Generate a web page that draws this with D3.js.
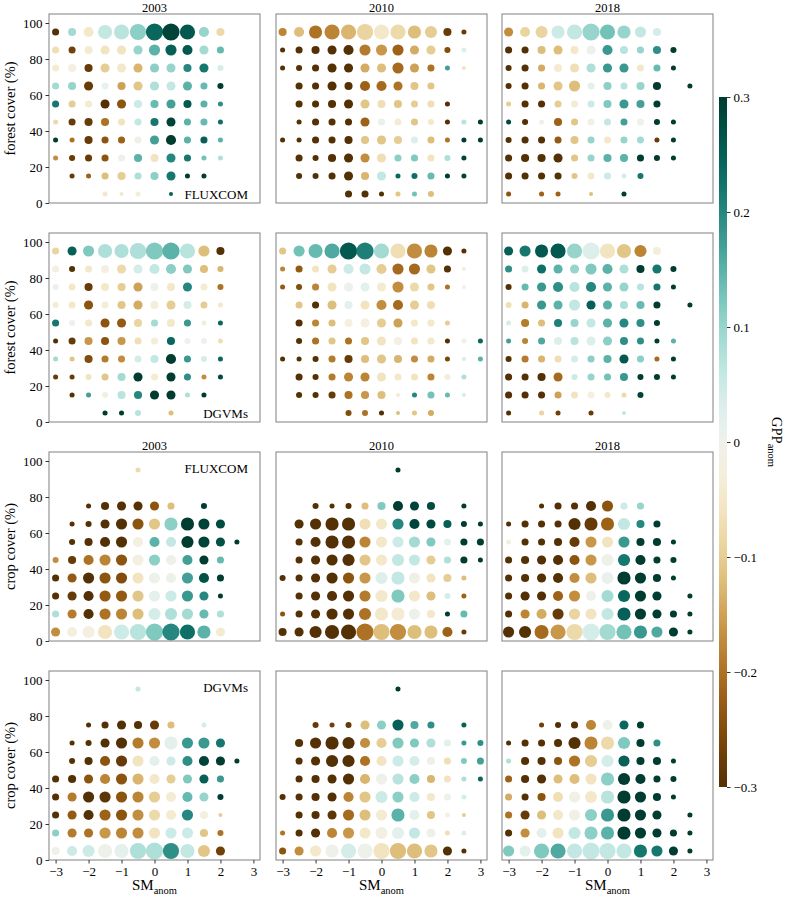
<!DOCTYPE html>
<html><head><meta charset="utf-8">
<script src="https://cdn.jsdelivr.net/npm/d3@7"></script>
<style>body{margin:0;background:#fff} text{font-family:"Liberation Serif","DejaVu Serif",serif;fill:#000}</style>
</head><body><svg id="c" width="786" height="898"></svg>
<script>
const _ = null;
const smBins = [-3,-2.5,-2,-1.5,-1,-0.5,0,0.5,1,1.5,2,2.5,3];
const coverBins = [95,85,75,65,55,45,35,25,15,5];
const years = ["2003","2010","2018"];
const products = ["FLUXCOM","DGVMs","FLUXCOM","DGVMs"];
const coverLabels = ["forest cover (%)","forest cover (%)","crop cover (%)","crop cover (%)"];
const yTicks = [0,20,40,60,80,100];
const xTicks = [-3,-2,-1,0,1,2,3];
const cbarTicks = [-0.3,-0.2,-0.1,0,0.1,0.2,0.3];

// GPP anomaly per cell (rows: cover 95 -> 5, cols: SM -3 -> 3)
const gppFluxForest2003 = [
[-.3,.09,-.05,.06,.07,.11,.24,.29,.26,.1,-.08,_,_],
[-.07,-.27,-.04,-.06,-.06,.1,.15,.25,.26,.09,.14,_,_],
[-.04,-.02,-.28,-.1,-.05,-.13,.11,.1,.2,.22,.04,_,_],
[.09,.1,-.28,.01,-.15,-.11,.08,.06,.15,.14,.3,_,_],
[.22,-.1,-.04,-.3,-.24,.05,.14,.17,.26,.15,.19,_,_],
[-.08,-.28,-.28,-.2,-.06,.06,.22,.29,.15,.14,.23,_,_],
[.3,-.2,-.28,-.24,-.22,0,.17,.3,.15,.25,.15,_,_],
[-.17,-.28,-.28,-.24,0,.15,-.06,.2,.22,.13,.08,_,_],
[_,-.28,-.22,-.12,-.1,.08,.11,.22,.3,.3,_,_,_],
[_,_,_,-.05,-.05,-.03,_,.25,_,_,_,_,_]];
const sizeFluxForest2003 = [
[7,8,10,14,15,16,17,17,15,10,8,_,_],
[7,7,8,9,9,9,11,11,10,9,7,_,_],
[7,8,8,9,9,9,9,9,8,9,6,_,_],
[7,8,9,7,8,9,9,9,9,7,6,_,_],
[7,7,7,9,9,8,8,9,8,7,5,_,_],
[5,7,8,8,7,7,8,9,7,7,5,_,_],
[5,5,8,7,7,7,9,10,7,7,5,_,_],
[5,6,7,7,7,8,8,9,7,5,5,_,_],
[_,5,5,7,8,7,8,9,5,5,_,_,_],
[_,_,_,5,4,5,_,4,_,_,_,_,_]];

const gppFluxForest2010 = [
[-.18,-.12,-.2,-.18,-.13,-.09,-.05,-.08,-.12,-.1,-.28,-.28,_],
[-.3,-.3,-.3,-.3,-.3,-.19,-.16,-.22,-.14,-.1,-.25,.03,_],
[-.3,-.3,-.3,-.3,-.3,-.14,-.12,-.21,-.15,-.2,.17,-.06,_],
[_,-.3,-.3,-.3,-.3,-.22,-.21,-.2,-.11,-.11,_,_,_],
[_,-.3,-.3,-.3,-.3,-.11,-.07,-.11,-.1,-.07,-.3,_,_],
[_,-.3,-.3,-.3,-.3,-.22,.01,-.04,-.11,-.05,-.3,.07,.3],
[-.3,-.3,-.3,-.3,-.3,-.11,-.11,-.1,.03,-.12,-.2,.3,.3],
[_,-.3,-.3,-.3,-.3,-.17,-.07,.11,.12,-.06,.08,.29,_],
[_,-.3,-.3,-.3,-.3,-.13,.06,.24,.23,.14,.3,.29,_],
[_,_,_,_,-.3,-.3,-.3,-.11,.13,-.12,_,_,_]];
const sizeFluxForest2010 = [
[8,10,13,15,15,16,15,15,13,12,8,5,_],
[5,7,8,9,10,11,11,11,9,9,6,5,_],
[5,6,7,9,9,9,9,11,9,7,5,4,_],
[_,7,7,9,8,10,10,9,8,7,_,_,_],
[_,7,7,8,9,9,8,8,7,7,5,_,_],
[_,5,7,7,7,9,7,7,7,6,5,5,5],
[5,5,7,7,8,8,9,8,7,7,5,5,5],
[_,7,6,8,9,9,9,7,7,7,6,5,_],
[_,6,6,7,9,8,9,5,6,7,5,5,_],
[_,_,_,_,7,7,5,5,5,6,_,_,_]];

const gppFluxForest2018 = [
[-.17,-.09,-.09,.05,.06,.1,.13,.1,.06,.04,_,_,_],
[-.3,-.3,-.12,-.12,-.05,0,.18,.07,.1,.19,.3,_,_],
[-.3,-.3,-.14,-.04,-.07,.08,.18,.18,-.05,.14,.3,_,_],
[-.3,-.3,-.13,-.11,-.12,.02,.11,.07,.1,.3,_,.3,_],
[-.1,-.3,-.3,-.1,-.04,.05,.12,.18,.17,.3,_,_,_],
[.28,-.3,-.01,-.22,-.11,-.01,.06,.17,0,.3,.3,_,_],
[-.3,-.3,-.3,-.23,-.11,.1,-.05,.1,.09,-.28,.3,_,_],
[-.3,-.3,-.3,-.3,-.11,.1,.15,.15,.3,.3,.3,_,_],
[-.3,-.3,-.3,-.3,-.11,-.05,.05,.04,.22,_,_,_,_],
[-.24,_,-.22,-.22,_,-.12,_,.3,_,_,_,_,_]];
const sizeFluxForest2018 = [
[9,10,12,13,15,17,15,13,11,8,_,_,_],
[7,7,8,9,8,9,10,8,7,8,6,_,_],
[6,7,7,8,9,9,9,9,7,7,5,_,_],
[6,7,7,9,11,7,8,7,8,8,_,5,_],
[5,7,7,7,7,7,8,9,8,7,_,_,_],
[5,6,5,8,7,7,7,7,7,6,5,_,_],
[6,7,7,7,8,7,7,7,7,5,5,_,_],
[7,8,8,9,7,7,8,8,7,6,5,_,_],
[7,7,7,7,6,7,7,5,6,_,_,_,_],
[5,_,5,5,_,4,_,5,_,_,_,_,_]];

const gppDgvmForest2003 = [
[-.09,.25,.12,.08,.08,.08,.12,.15,.07,-.12,-.3,_,_],
[-.02,-.3,-.05,-.02,-.08,.04,.06,.11,.12,-.12,-.13,_,_],
[.01,-.05,-.28,-.05,-.1,-.15,0,-.05,.2,-.04,-.2,_,_],
[-.04,-.05,-.24,-.03,-.11,-.14,-.03,-.1,.04,-.1,-.05,_,_],
[.22,0,-.05,-.24,-.23,-.09,.09,-.05,.18,-.03,.24,_,_],
[-.3,-.28,-.16,-.24,-.16,-.07,-.03,.24,0,0,-.07,_,_],
[.09,-.11,-.25,-.19,-.17,.04,.06,.3,.18,.04,.24,_,_],
[-.28,-.28,-.06,-.11,.09,.3,-.04,.3,.19,-.17,.28,_,_],
[_,-.3,.17,-.02,.07,.2,.3,.3,.08,.3,_,_,_],
[_,_,_,.3,.3,.07,_,-.12,_,_,_,_,_]];
const sizeDgvmForest2003 = [
[7,9,11,14,14,16,17,17,15,11,8,_,_],
[7,6,7,8,9,9,10,10,9,8,6,_,_],
[6,7,8,8,8,9,8,8,9,7,6,_,_],
[6,7,9,7,8,9,8,9,8,7,5,_,_],
[7,6,7,9,9,8,7,8,7,5,5,_,_],
[5,7,8,8,8,7,7,8,6,6,5,_,_],
[5,5,8,7,7,7,8,10,7,6,5,_,_],
[5,5,6,7,8,9,7,9,7,5,5,_,_],
[_,5,5,6,8,8,9,9,5,5,_,_,_],
[_,_,_,5,5,6,_,5,_,_,_,_,_]];

const gppDgvmForest2010 = [
[-.11,.13,.14,.16,.26,.21,.09,-.07,-.17,-.18,-.3,-.3,_],
[-.18,-.23,-.06,-.1,.05,.06,-.1,-.21,-.21,-.11,-.3,-.03,_],
[-.23,-.25,-.18,-.06,0,.02,-.04,-.17,-.08,-.11,-.2,0,_],
[_,-.11,-.3,-.12,.02,-.06,-.17,-.21,-.1,-.07,_,_,_],
[_,-.3,-.18,-.12,-.02,-.02,-.1,-.15,-.05,-.05,-.1,_,_],
[_,-.3,-.2,-.11,-.2,-.11,-.06,-.02,-.06,-.05,-.3,0,.24],
[-.3,-.3,-.3,-.19,-.28,-.12,-.11,-.13,-.17,-.14,-.26,.04,.15],
[_,-.3,-.3,-.19,-.18,-.18,-.06,-.05,-.06,-.18,-.03,.08,_],
[_,-.3,-.3,-.28,-.2,-.16,-.12,-.04,.2,.13,.14,.04,_],
[_,_,_,_,-.25,-.2,-.3,-.12,-.11,-.14,_,_,_]];
const sizeDgvmForest2010 = [
[7,11,14,15,17,17,15,15,15,13,9,5,_],
[5,7,7,9,10,11,10,11,11,9,7,4,_],
[5,6,7,9,9,9,9,11,9,7,5,4,_],
[_,7,7,9,8,9,10,10,9,8,_,_,_],
[_,7,7,7,8,9,9,9,7,7,5,_,_],
[_,6,7,7,7,8,9,8,7,7,5,5,5],
[5,5,6,7,8,8,9,8,7,7,5,4,5],
[_,7,6,7,9,9,9,7,7,7,6,5,_],
[_,6,6,7,8,8,8,4,5,7,5,4,_],
[_,_,_,_,6,6,5,4,5,6,_,_,_]];

const gppDgvmForest2018 = [
[.25,.22,.26,.26,.1,.03,-.06,-.11,-.18,-.03,_,_,_],
[.19,.03,.23,.15,.1,.12,.15,.08,.3,.22,.3,_,_],
[-.3,.14,.18,.19,.07,.2,.15,.1,.07,.22,.3,_,_],
[-.07,-.13,.18,.15,.06,.25,.15,.08,.14,.3,_,.3,_],
[.04,-.19,-.12,.21,.1,.06,.15,.2,.19,.3,_,_,_],
[.17,-.18,.16,.03,.07,.03,.11,.19,.19,.3,.15,_,_],
[-.3,-.19,-.13,-.07,.04,.11,.15,.26,.11,-.21,.3,_,_],
[-.3,-.3,-.3,-.21,.05,.1,.13,.18,.3,.3,.3,_,_],
[-.3,-.3,-.3,-.15,-.06,-.02,-.05,-.08,.29,_,_,_,_],
[-.3,_,-.09,-.27,_,-.28,_,.06,_,_,_,_,_]];
const sizeDgvmForest2018 = [
[9,11,13,15,15,17,15,14,12,8,_,_,_],
[7,7,9,9,9,11,10,9,8,9,6,_,_],
[6,7,9,10,10,10,9,9,7,7,5,_,_],
[6,7,9,9,11,9,9,8,8,7,_,5,_],
[5,8,7,8,8,9,9,9,8,6,_,_,_],
[5,6,7,8,8,9,9,8,7,5,5,_,_],
[6,7,7,7,7,7,8,9,7,5,5,_,_],
[7,7,8,9,6,7,7,8,6,6,5,_,_],
[7,7,7,7,7,7,6,5,6,_,_,_,_],
[5,_,5,5,_,5,_,4,_,_,_,_,_]];

const gppFluxCrop2003 = [
[_,_,_,_,_,-.08,_,_,_,_,_,_,_],
[_,_,_,_,_,_,_,_,_,_,_,_,_],
[_,_,-.3,-.3,-.3,-.3,-.24,-.12,_,.3,_,_,_],
[_,-.3,-.3,-.3,-.3,-.24,-.11,.11,.3,.29,.28,_,_],
[_,-.3,-.3,-.3,-.3,-.02,.15,.06,.3,.29,.27,.3,_],
[-.17,-.28,-.2,-.18,-.24,-.02,.11,0,.17,.3,.14,_,_],
[-.3,-.23,-.3,-.24,-.25,-.06,0,0,.17,.27,.3,_,_],
[-.3,-.28,-.3,-.23,-.23,-.11,.02,.05,.18,.2,.3,_,_],
[.08,-.19,-.3,-.2,-.18,-.12,.04,.08,.09,.14,.08,_,_],
[-.17,-.02,-.02,-.06,.05,.07,.12,.2,.23,.15,-.04,_,_]];
const sizeFluxCrop2003 = [
[_,_,_,_,_,5,_,_,_,_,_,_,_],
[_,_,_,_,_,_,_,_,_,_,_,_,_],
[_,_,5,8,9,9,9,7,_,6,_,_,_],
[_,5,6,9,11,11,11,13,13,11,9,_,_],
[_,6,8,10,11,10,10,10,12,11,9,5,_],
[6,8,10,11,11,11,11,10,10,9,7,_,_],
[7,9,11,11,11,11,11,10,11,10,7,_,_],
[7,9,10,11,11,11,11,11,11,9,5,_,_],
[7,9,10,11,11,11,12,12,11,9,7,_,_],
[9,10,12,14,15,16,17,17,15,13,9,_,_]];

const gppFluxCrop2010 = [
[_,_,_,_,_,_,_,.3,_,_,_,_,_],
[_,_,_,_,_,_,_,_,_,_,_,_,_],
[_,_,-.3,-.3,-.3,-.12,.12,.3,.29,.28,_,.3,_],
[_,-.3,-.3,-.3,-.3,-.07,-.05,.2,.29,.28,.25,.3,.3],
[_,-.3,-.3,-.3,-.3,-.18,-.05,.05,.09,.12,.02,.3,.3],
[_,-.3,-.3,-.3,-.3,-.11,-.05,.06,.06,-.1,.08,.3,.3],
[-.3,-.3,-.3,-.3,-.24,-.16,.03,.06,-.01,-.06,-.1,-.12,_],
[_,-.3,-.3,-.3,-.3,-.19,-.05,.12,-.05,-.12,.04,-.22,_],
[-.24,-.3,-.3,-.3,-.3,-.2,-.05,-.04,0,-.05,.3,.14,_],
[-.3,-.3,-.3,-.3,-.3,-.2,-.12,-.17,-.12,-.12,-.22,-.28,_]];
const sizeFluxCrop2010 = [
[_,_,_,_,_,_,_,5,_,_,_,_,_],
[_,_,_,_,_,_,_,_,_,_,_,_,_],
[_,_,6,5,6,7,8,10,9,8,_,5,_],
[_,9,11,13,13,11,11,11,10,9,8,6,5],
[_,7,10,13,13,11,11,11,11,9,7,7,7],
[_,7,9,11,12,11,11,12,11,9,7,7,5],
[6,7,9,11,11,11,12,13,11,9,8,5,_],
[_,7,9,10,11,11,12,13,11,9,6,5,_],
[5,7,9,11,11,12,13,13,11,8,5,7,_],
[8,9,12,14,15,17,16,16,14,13,10,5,_]];

const gppFluxCrop2018 = [
[_,_,_,_,_,_,_,_,_,_,_,_,_],
[_,_,_,_,_,_,_,_,_,_,_,_,_],
[_,_,-.3,-.3,-.3,-.3,-.24,.05,.1,_,_,_,_],
[-.3,-.3,-.3,-.3,-.3,-.28,-.22,.06,.2,.3,_,_,_],
[-.02,-.3,-.3,-.3,-.28,-.16,-.06,.18,.3,.3,.3,_,_],
[-.3,-.3,-.3,-.3,-.24,-.16,0,.22,.3,.3,.3,_,_],
[-.3,-.3,-.3,-.3,-.17,-.12,.01,.3,.3,.3,.3,_,_],
[-.3,-.3,-.3,-.22,-.17,0,.09,.24,.3,.3,_,.3,_],
[-.3,-.18,-.14,-.28,-.09,-.06,.06,.25,.3,.3,.3,.3,_],
[-.3,-.3,-.21,-.16,-.08,.04,.09,.13,.18,.16,.3,.3,_]];
const sizeFluxCrop2018 = [
[_,_,_,_,_,_,_,_,_,_,_,_,_],
[_,_,_,_,_,_,_,_,_,_,_,_,_],
[_,_,5,7,7,10,11,7,7,_,_,_,_],
[5,7,7,7,12,13,13,12,8,7,_,_,_],
[5,7,7,8,10,11,11,11,8,8,5,_,_],
[7,8,9,10,10,11,12,12,10,7,6,_,_],
[7,8,9,10,10,11,12,13,11,8,5,_,_],
[7,9,9,10,11,10,12,12,11,9,_,5,_],
[7,9,10,11,11,11,12,13,11,9,7,5,_],
[11,12,14,15,16,17,16,15,13,11,9,5,_]];

const gppDgvmCrop2003 = [
[_,_,_,_,_,.06,_,_,_,_,_,_,_],
[_,_,_,_,_,_,_,_,_,_,_,_,_],
[_,_,-.3,-.3,-.3,-.3,-.28,-.12,_,.04,_,_,_],
[_,-.3,-.3,-.3,-.3,-.19,-.17,.02,.18,.18,.22,_,_],
[_,-.3,-.3,-.24,-.28,-.06,.02,.05,.19,.29,.3,.3,_],
[-.3,-.3,-.24,-.18,-.24,-.13,-.05,-.1,.12,.25,.18,_,_],
[-.3,-.19,-.3,-.29,-.24,-.18,-.1,-.04,.14,.1,.3,_,_],
[-.3,-.23,-.3,-.22,-.24,-.17,-.08,-.04,.2,-.02,-.1,_,_],
[.11,-.19,-.2,-.16,-.18,-.17,-.06,.05,.05,-.11,-.2,_,_],
[0,.05,.05,0,.02,.08,.08,.19,.06,-.11,-.27,_,_]];
const sizeDgvmCrop2003 = [
[_,_,_,_,_,5,_,_,_,_,_,_,_],
[_,_,_,_,_,_,_,_,_,_,_,_,_],
[_,_,5,7,9,8,9,7,_,5,_,_,_],
[_,5,6,9,11,11,11,13,11,11,9,_,_],
[_,6,8,10,11,11,10,9,10,10,9,5,_],
[7,8,9,10,11,11,10,9,9,9,7,_,_],
[7,9,11,11,11,11,11,10,10,9,6,_,_],
[7,9,10,11,11,11,11,10,11,8,4,_,_],
[7,9,9,11,11,11,11,11,11,8,6,_,_],
[8,10,12,14,14,16,17,16,14,12,9,_,_]];

const gppDgvmCrop2010 = [
[_,_,_,_,_,_,_,.3,_,_,_,_,_],
[_,_,_,_,_,_,_,_,_,_,_,_,_],
[_,_,-.28,-.27,-.28,-.12,.11,.25,.16,.19,_,.25,_],
[_,-.3,-.3,-.3,-.3,-.17,-.1,.12,.12,.08,.02,.18,.19],
[_,-.3,-.3,-.3,-.3,-.2,-.06,.05,.04,0,-.07,.12,.17],
[_,-.3,-.3,-.3,-.3,-.13,0,.07,.11,-.13,-.06,.08,.24],
[-.3,-.3,-.3,-.3,-.18,-.11,.05,.11,.05,-.05,0,.04,_],
[_,-.3,-.3,-.29,-.21,-.12,-.04,.15,.02,-.11,-.02,-.1,_],
[-.2,-.3,-.3,-.18,-.16,-.05,-.02,.02,.06,0,-.07,.03,_],
[-.24,-.17,-.05,0,.04,0,-.06,-.12,-.12,-.11,-.3,-.3,_]];
const sizeDgvmCrop2010 = [
[_,_,_,_,_,_,_,5,_,_,_,_,_],
[_,_,_,_,_,_,_,_,_,_,_,_,_],
[_,_,6,5,6,9,9,11,8,7,_,5,_],
[_,8,11,13,12,10,10,11,9,9,7,5,6],
[_,7,9,12,12,10,10,11,10,8,7,6,7],
[_,7,8,9,11,10,11,11,10,8,7,5,5],
[6,7,8,9,10,11,12,11,10,8,7,5,_],
[_,7,8,9,11,11,11,13,10,8,5,4,_],
[5,7,9,10,11,11,12,12,11,9,5,5,_],
[7,9,11,13,15,15,16,16,15,13,9,5,_]];

const gppDgvmCrop2018 = [
[_,_,_,_,_,_,_,_,_,_,_,_,_],
[_,_,_,_,_,_,_,_,_,_,_,_,_],
[_,_,-.27,-.3,-.3,-.18,0,.24,.3,_,_,_,_],
[-.3,-.3,-.3,-.3,-.3,-.18,-.08,.12,.3,.19,_,_,_],
[.08,-.3,-.3,-.24,-.2,-.1,.04,.25,.3,.3,.3,_,_],
[-.22,-.3,-.3,-.12,-.12,-.06,.11,.3,.3,.3,.3,_,_],
[-.14,-.3,-.24,-.07,-.01,-.05,.07,.3,.3,.3,.3,_,_],
[-.2,-.28,-.12,-.05,-.01,.11,.18,.3,.3,.3,_,.3,_],
[-.3,-.17,.02,-.06,.06,.11,.15,.3,.3,.3,.3,.3,_],
[.12,.02,.12,.16,.06,.06,.06,.06,.22,.22,.3,.3,_]];
const sizeDgvmCrop2018 = [
[_,_,_,_,_,_,_,_,_,_,_,_,_],
[_,_,_,_,_,_,_,_,_,_,_,_,_],
[_,_,5,6,7,10,10,9,7,_,_,_,_],
[5,7,7,8,12,13,13,12,8,7,_,_,_],
[5,8,8,8,11,12,12,11,8,8,5,_,_],
[7,8,9,9,10,11,13,12,10,7,6,_,_],
[7,7,8,10,11,12,13,13,11,8,5,_,_],
[7,9,9,10,11,12,13,13,11,9,_,5,_],
[7,9,10,11,12,13,13,13,11,9,7,5,_],
[11,11,15,15,15,17,16,15,13,11,9,5,_]];

const gppGrid = [
  [gppFluxForest2003, gppFluxForest2010, gppFluxForest2018],
  [gppDgvmForest2003, gppDgvmForest2010, gppDgvmForest2018],
  [gppFluxCrop2003, gppFluxCrop2010, gppFluxCrop2018],
  [gppDgvmCrop2003, gppDgvmCrop2010, gppDgvmCrop2018]];
const sizeGrid = [
  [sizeFluxForest2003, sizeFluxForest2010, sizeFluxForest2018],
  [sizeDgvmForest2003, sizeDgvmForest2010, sizeDgvmForest2018],
  [sizeFluxCrop2003, sizeFluxCrop2010, sizeFluxCrop2018],
  [sizeDgvmCrop2003, sizeDgvmCrop2010, sizeDgvmCrop2018]];

// ---- layout ----
const svg = d3.select("#c");
const colX = [49, 276, 502], rowY = [14, 233, 452, 671];
const pw = 211, ph = 189;
const x = d3.scaleLinear().domain([-3.2, 3.2]).range([0, pw]);
const y = d3.scaleLinear().domain([0, 105]).range([ph, 0]);
const color = d3.scaleSequential(d3.interpolateBrBG).domain([-0.3, 0.3]).clamp(true);
const r = d3.scaleLinear().domain([0, 17]).range([0, 8.6]);
const frame = "#808080";
const fs = 13;

for (let ri = 0; ri < 4; ri++) {
  for (let ci = 0; ci < 3; ci++) {
    const g = svg.append("g").attr("transform", `translate(${colX[ci]},${rowY[ri]})`);
    const pts = [];
    gppGrid[ri][ci].forEach((row, yi) => row.forEach((v, xi) => {
      const s = sizeGrid[ri][ci][yi][xi];
      if (v !== null && s !== null) pts.push({sm: smBins[xi], cov: coverBins[yi], v, s});
    }));
    g.selectAll("circle").data(pts).join("circle")
      .attr("cx", d => x(d.sm)).attr("cy", d => y(d.cov))
      .attr("r", d => r(d.s)).attr("fill", d => color(d.v));
    g.append("rect").attr("width", pw).attr("height", ph)
      .attr("fill", "none").attr("stroke", frame).attr("stroke-width", 1);
    if (ci === 0) {
      const ya = g.append("g").call(d3.axisLeft(y).tickValues(yTicks).tickSize(3.5).tickPadding(3).tickFormat(d3.format("d")));
      ya.select(".domain").remove();
      ya.selectAll("line").attr("stroke", "#333");
      ya.selectAll("text").attr("font-size", fs);
      svg.append("text").attr("transform", `translate(15,${rowY[ri] + ph/2}) rotate(-90)`)
        .attr("text-anchor", "middle").attr("font-size", 14.5).text(coverLabels[ri]);
    }
    if (ri === 3) {
      const xa = g.append("g").attr("transform", `translate(0,${ph})`)
        .call(d3.axisBottom(x).tickValues(xTicks).tickSize(3.5).tickPadding(3).tickFormat(d3.format("d")));
      xa.select(".domain").remove();
      xa.selectAll("line").attr("stroke", "#333");
      xa.selectAll("text").attr("font-size", fs);
      const t = svg.append("text").attr("x", colX[ci] + pw/2).attr("y", 890)
        .attr("text-anchor", "middle").attr("font-size", 15);
      t.append("tspan").text("SM");
      t.append("tspan").attr("font-size", 10.5).attr("dy", 4).text("anom");
    }
    if (ri === 0 || ri === 2) {
      svg.append("text").attr("x", colX[ci] + pw/2).attr("y", rowY[ri] - 2.5)
        .attr("text-anchor", "middle").attr("font-size", 12.5).text(years[ci]);
    }
    if (ci === 0) {
      const ty = (ri === 0 || ri === 1) ? ph - 4 : 21;
      g.append("text").attr("x", pw - 12).attr("y", ty)
        .attr("text-anchor", "end").attr("font-size", fs).text(products[ri]);
    }
  }
}

// ---- colorbar ----
const cbX = 719, cbW = 8, cbTop = 97, cbBot = 787;
const cy = d3.scaleLinear().domain([-0.3, 0.3]).range([cbBot, cbTop]);
const defs = svg.append("defs");
const grad = defs.append("linearGradient").attr("id", "cbg")
  .attr("x1", 0).attr("y1", 1).attr("x2", 0).attr("y2", 0);
d3.range(0, 1.0001, 0.02).forEach(t => grad.append("stop")
  .attr("offset", t).attr("stop-color", color(-0.3 + 0.6 * t)));
svg.append("rect").attr("x", cbX).attr("y", cbTop).attr("width", cbW).attr("height", cbBot - cbTop)
  .attr("fill", "url(#cbg)");
const ca = svg.append("g").attr("transform", `translate(${cbX + cbW},0)`)
  .call(d3.axisRight(cy).tickValues(cbarTicks).tickSize(3.5).tickPadding(3).tickFormat(d => d === 0 ? "0" : d3.format(".1f")(d)));
ca.select(".domain").remove();
ca.selectAll("line").attr("stroke", "#333");
ca.selectAll("text").attr("font-size", fs);
const cl = svg.append("text").attr("transform", `translate(772,${(cbTop + cbBot)/2}) rotate(90)`)
  .attr("text-anchor", "middle").attr("font-size", 14.5);
cl.append("tspan").text("GPP");
cl.append("tspan").attr("font-size", 10.5).attr("dy", 4).text("anom");
</script></body></html>
